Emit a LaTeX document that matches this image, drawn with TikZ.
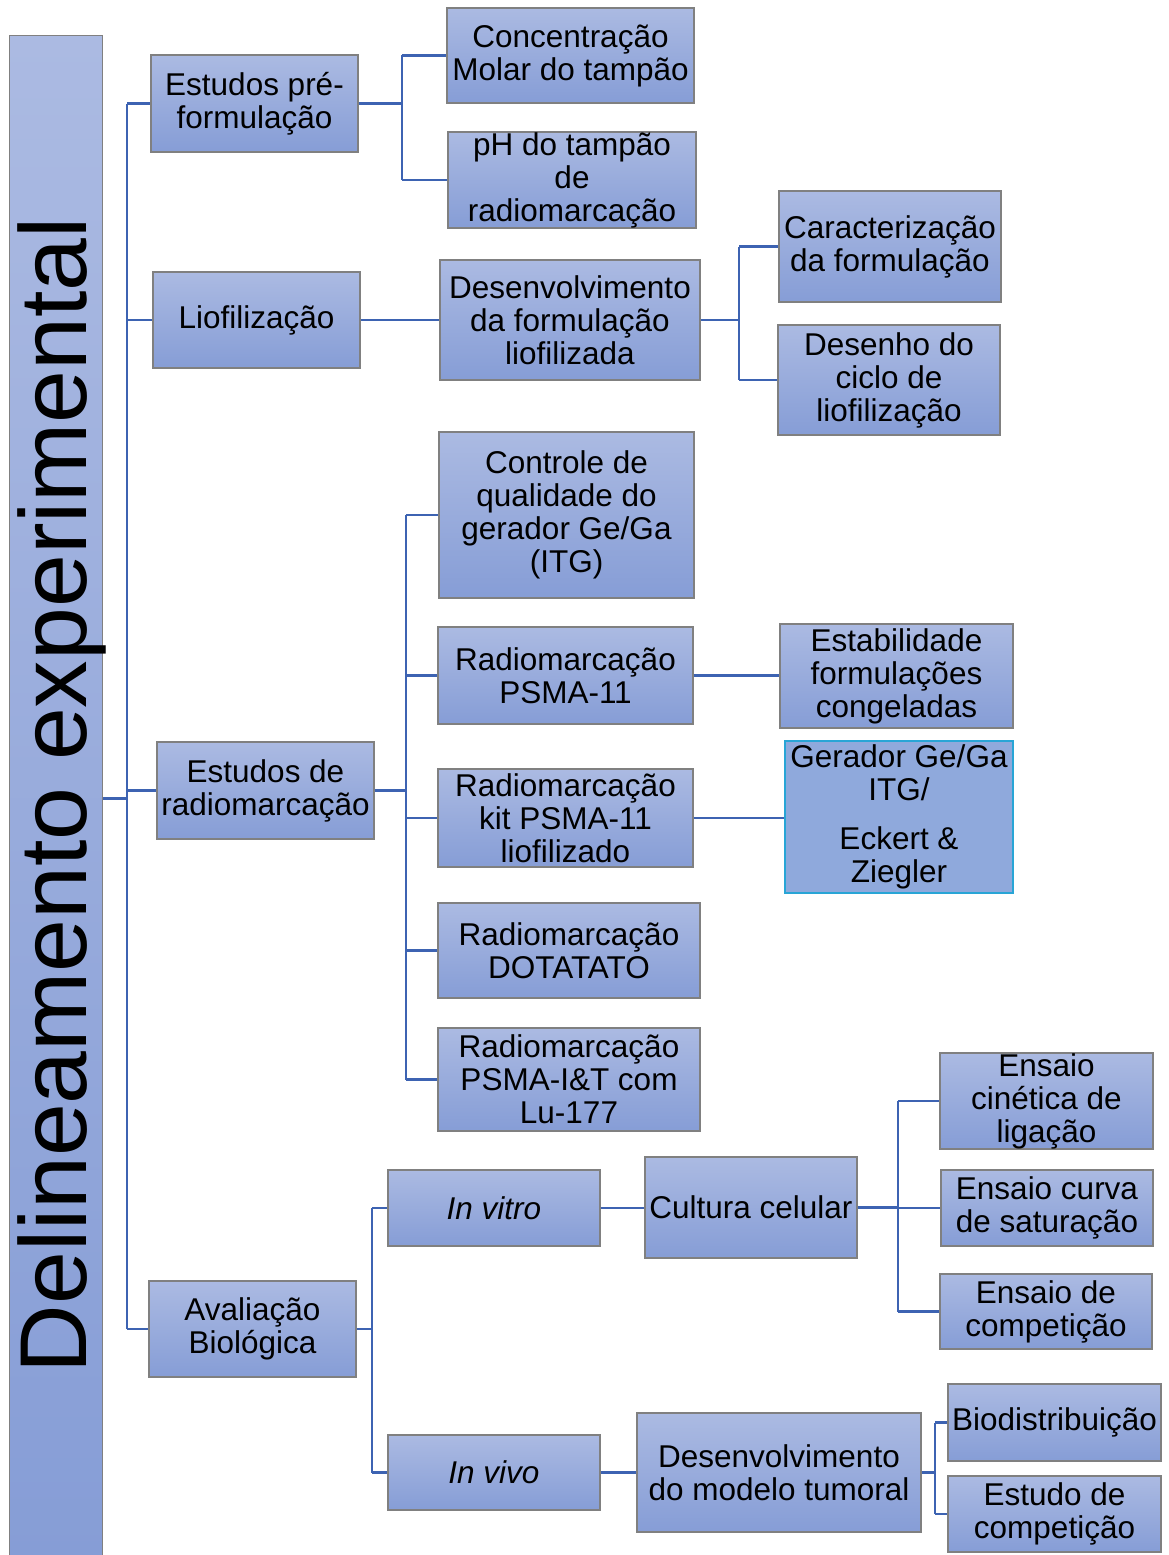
\documentclass[tikz,border=0pt]{standalone}
\usepackage{fontspec}
\setmainfont{Liberation Sans}
\definecolor{boxtop}{RGB}{171,186,226}
\definecolor{boxbot}{RGB}{134,157,214}
\definecolor{boxline}{RGB}{128,128,128}
\definecolor{conncol}{RGB}{61,99,178}
\definecolor{gerfill}{RGB}{143,169,220}
\definecolor{gerline}{RGB}{40,165,214}
\tikzset{
  box/.style={draw=boxline, line width=1.2pt, top color=boxtop, bottom color=boxbot,
    inner sep=0pt, align=center, font=\fontsize{31.5}{33}\selectfont},
  conn/.style={draw=conncol, line width=2.8pt},
}
\begin{document}
\begin{tikzpicture}[x=1pt,y=-1pt]
\useasboundingbox (0,0) rectangle (1169,1555);
% root
\node[draw=boxline, line width=1.2pt, top color=boxtop, bottom color=boxbot, inner sep=0pt,
  minimum width=93pt, minimum height=1525pt, anchor=north west] (root) at (9,35) {};
\node[rotate=90, anchor=base, inner sep=0pt, font=\fontsize{95}{95}\selectfont] (roottext) at (86,795) {Delineamento experimental};
% level 1
\node[box, minimum width=207pt, minimum height=97pt] (pre) at (254.5,103.5) {Estudos pré-\\formulação};
\node[box, minimum width=207pt, minimum height=96pt] (lio) at (256.5,320) {Liofilização};
\node[box, minimum width=217pt, minimum height=97pt] (rad) at (265.5,790.5) {Estudos de\\radiomarcação};
\node[box, minimum width=207pt, minimum height=96pt] (ava) at (252.5,1329) {Avaliação\\Biológica};
% level 2 / 3
\node[box, minimum width=247pt, minimum height=95pt] (conc) at (570.5,55.5) {Concentração\\Molar do tampão};
\node[box, minimum width=248pt, minimum height=96pt] (ph) at (572,180) {pH do tampão\\de\\radiomarcação};
\node[box, minimum width=260pt, minimum height=120pt] (des) at (570,320) {Desenvolvimento\\da formulação\\liofilizada};
\node[box, minimum width=222pt, minimum height=111pt] (car) at (890,246.5) {Caracterização\\da formulação};
\node[box, minimum width=222pt, minimum height=110pt] (cic) at (889,380) {Desenho do\\ciclo de\\liofilização};
\node[box, minimum width=255pt, minimum height=166pt] (ctrl) at (566.5,515) {Controle de\\qualidade do\\gerador Ge/Ga\\(ITG)};
\node[box, minimum width=255pt, minimum height=97pt] (psma) at (565.5,675.5) {Radiomarcação\\PSMA-11};
\node[box, minimum width=255pt, minimum height=98pt] (kit) at (565.5,818) {Radiomarcação\\kit PSMA-11\\liofilizado};
\node[box, minimum width=262pt, minimum height=95pt] (dota) at (569,950.5) {Radiomarcação\\DOTATATO};
\node[box, minimum width=262pt, minimum height=103pt] (pit) at (569,1079.5) {Radiomarcação\\PSMA-I\&T com\\Lu-177};
\node[box, minimum width=233pt, minimum height=104pt] (est) at (896.5,676) {Estabilidade\\formulações\\congeladas};
\node[box, draw=gerline, line width=1.5pt, fill=gerfill, top color=gerfill, bottom color=gerfill,
  minimum width=228pt, minimum height=152pt] (ger) at (899,817) {Gerador Ge/Ga\\ITG/\\[16pt]Eckert \&\\Ziegler};
\node[box, minimum width=212pt, minimum height=76pt, font=\fontsize{31.5}{33}\selectfont\itshape] (vitro) at (494,1208) {In vitro};
\node[box, minimum width=212pt, minimum height=75pt, font=\fontsize{31.5}{33}\selectfont\itshape] (vivo) at (494,1472.5) {In vivo};
\node[box, minimum width=212pt, minimum height=101pt] (cult) at (751,1207.5) {Cultura celular};
\node[box, minimum width=213pt, minimum height=96pt] (cin) at (1046.5,1101) {Ensaio\\cinética de\\ligação};
\node[box, minimum width=212pt, minimum height=76pt] (sat) at (1047,1208) {Ensaio curva\\de saturação};
\node[box, minimum width=212pt, minimum height=75pt] (compa) at (1046,1311.5) {Ensaio de\\competição};
\node[box, minimum width=284pt, minimum height=119pt] (mod) at (779,1472.5) {Desenvolvimento\\do modelo tumoral};
\node[box, minimum width=213pt, minimum height=77pt] (bio) at (1054.5,1422.5) {Biodistribuição};
\node[box, minimum width=213pt, minimum height=76pt] (compb) at (1054.5,1514) {Estudo de\\competição};
% junction coordinates
\coordinate (ja) at (127,0);
\coordinate (jb) at (402,0);
\coordinate (jc) at (739,0);
\coordinate (jd) at (406,0);
\coordinate (je) at (372,0);
\coordinate (jf) at (898,0);
\coordinate (jg) at (935,0);
% connectors
\draw[conn] (root.east) -- (ja |- root.east);
\draw[conn] (ja |- pre.west) -- (ja |- ava.west);
\foreach \n in {pre,lio,rad,ava} \draw[conn] (ja |- \n.west) -- (\n.west);
\draw[conn] (pre.east) -- (jb |- pre.east);
\draw[conn] (jb |- conc.west) -- (jb |- ph.west);
\foreach \n in {conc,ph} \draw[conn] (jb |- \n.west) -- (\n.west);
\draw[conn] (lio.east) -- (des.west);
\draw[conn] (des.east) -- (jc |- des.east);
\draw[conn] (jc |- car.west) -- (jc |- cic.west);
\foreach \n in {car,cic} \draw[conn] (jc |- \n.west) -- (\n.west);
\draw[conn] (rad.east) -- (jd |- rad.east);
\draw[conn] (jd |- ctrl.west) -- (jd |- pit.west);
\foreach \n in {ctrl,psma,kit,dota,pit} \draw[conn] (jd |- \n.west) -- (\n.west);
\draw[conn] (psma.east) -- (psma.east -| est.west);
\draw[conn] (kit.east) -- (kit.east -| ger.west);
\draw[conn] (ava.east) -- (je |- ava.east);
\draw[conn] (je |- vitro.west) -- (je |- vivo.west);
\foreach \n in {vitro,vivo} \draw[conn] (je |- \n.west) -- (\n.west);
\draw[conn] (vitro.east) -- (vitro.east -| cult.west);
\draw[conn] (cult.east) -- (jf |- cult.east);
\draw[conn] (jf |- cin.west) -- (jf |- compa.west);
\foreach \n in {cin,sat,compa} \draw[conn] (jf |- \n.west) -- (\n.west);
\draw[conn] (vivo.east) -- (vivo.east -| mod.west);
\draw[conn] (mod.east) -- (jg |- mod.east);
\draw[conn] (jg |- bio.west) -- (jg |- compb.west);
\foreach \n in {bio,compb} \draw[conn] (jg |- \n.west) -- (\n.west);
\end{tikzpicture}
\end{document}
